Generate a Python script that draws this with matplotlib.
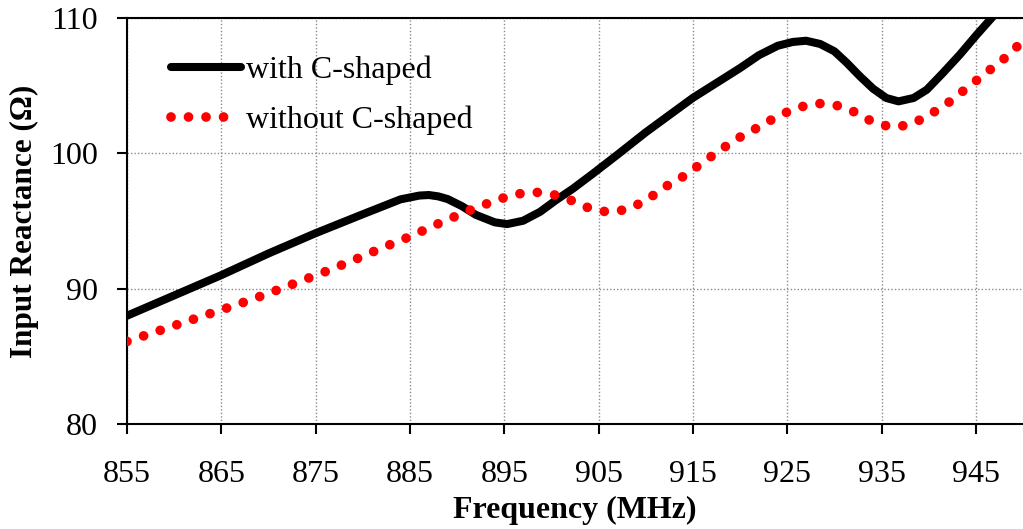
import matplotlib
matplotlib.use("Agg")
import matplotlib.pyplot as plt

plt.rcParams['font.family'] = ['Liberation Serif', 'DejaVu Serif']

# Data
freq_with = [855, 858, 861, 865, 870, 875, 880, 882, 884, 886, 887, 888, 889,
             890.5, 892, 894, 895.3, 897, 898.8, 900.5, 902.3, 904.4, 907, 910,
             915, 920, 922, 924, 925.6, 927, 928.5, 930, 931.3, 932.7, 934.1,
             935.5, 936.8, 938.4, 939.8, 941.5, 943.3, 945.1, 946.8, 948.5, 950]
react_with = [88.0, 88.9, 89.8, 91.0, 92.6, 94.1, 95.5, 96.05, 96.6, 96.88,
              96.92, 96.82, 96.62, 96.1, 95.45, 94.9, 94.77, 95.02, 95.68, 96.55,
              97.4, 98.5, 99.9, 101.55, 104.1, 106.3, 107.25, 107.95, 108.23,
              108.32, 108.08, 107.54, 106.7, 105.7, 104.78, 104.09, 103.84,
              104.09, 104.7, 105.93, 107.29, 108.77, 110.1, 111.4, 112.6]

freq_without = [855, 858, 861, 864, 867, 870, 873, 876, 879, 882, 885, 888, 891,
                894, 896, 898, 900, 902, 904, 906, 908, 910, 912, 914, 916, 918,
                920, 922, 924, 926, 928, 930, 932, 934, 936, 938, 940, 942, 944,
                946, 948, 950]
react_without = [86.1, 86.8, 87.5, 88.2, 88.9, 89.65, 90.45, 91.25, 92.1, 93.0,
                 93.85, 94.8, 95.7, 96.5, 96.95, 97.15, 97.0, 96.55, 95.95, 95.65,
                 95.85, 96.5, 97.5, 98.3, 99.3, 100.3, 101.2, 101.95, 102.75,
                 103.35, 103.7, 103.6, 103.1, 102.35, 101.93, 102.1, 102.8, 103.7,
                 104.8, 105.9, 107.0, 108.3]

xticks = [855, 865, 875, 885, 895, 905, 915, 925, 935, 945]
yticks = [80, 90, 100, 110]

fig = plt.figure(figsize=(10.23, 5.29), dpi=100)
ax = fig.add_axes([127/1023, 1 - 424/529, 1 - 127/1023, (424 - 18)/529])

ax.plot(freq_with, react_with, color='black', lw=5.8, solid_capstyle='round',
        solid_joinstyle='round', label='with C-shaped', zorder=3)
ax.plot(freq_without, react_without, color='#ff0000', lw=7.0,
        dashes=(0.001, 1.8), dash_capstyle='round', label='without C-shaped', zorder=3)

ax.set_xlim(855, 950)
ax.set_ylim(80, 110)
ax.set_xticks(xticks)
ax.set_yticks(yticks)
ax.tick_params(direction='out', length=7, width=1.5, labelsize=23)
ax.tick_params(axis='x', pad=19)
ax.tick_params(axis='y', pad=14)

ax.grid(True, color='#8c8c8c', linestyle=(0, (1, 1.5)), linewidth=1.0, zorder=0)
ax.set_axisbelow(True)

for s in ['left', 'bottom', 'top']:
    ax.spines[s].set_linewidth(1.5)
    ax.spines[s].set_color('black')
ax.spines['right'].set_visible(False)

ax.set_xlabel('Frequency (MHz)', fontsize=23, fontweight='bold', labelpad=5)
ax.set_ylabel('Input Reactance (Ω)', fontsize=22.5, fontweight='bold', labelpad=8)

leg = ax.legend(loc='upper left', bbox_to_anchor=(0.035, 0.938), frameon=False,
                fontsize=23, handlelength=2.2, handletextpad=0.15,
                labelspacing=0.63, borderaxespad=0)

fig.savefig('out.png', dpi=100)
